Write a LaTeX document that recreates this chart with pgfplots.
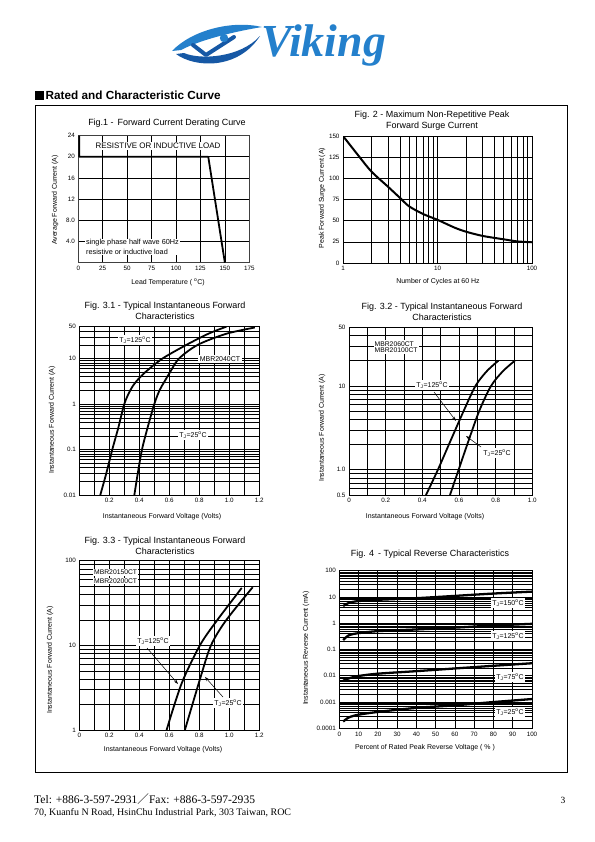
\documentclass[border=0pt]{standalone}
\usepackage{fontspec}
\setmainfont{Liberation Sans}
\newfontfamily\seriffont{Liberation Serif}
\newfontfamily\cjk{Noto Sans CJK SC}
\usepackage{pgfplots}
\pgfplotsset{compat=1.18}
\usetikzlibrary{arrows.meta}
\definecolor{logoblue}{RGB}{36,128,204}
\definecolor{logodark}{RGB}{22,88,165}
\newcommand\tl{\fontsize{6.3}{7}\selectfont}
\newcommand\al{\fontsize{7}{8}\selectfont}
\newcommand\ttl{\fontsize{9}{10}\selectfont}
\newcommand\an{\fontsize{7}{8}\selectfont}
\newcommand\TJ[1]{T\textsubscript{J}=#1\textsuperscript{o}C}

\pgfplotsset{
  ds/.style={scale only axis, anchor=north west,
    axis line style={black,line width=0.6pt},
    major tick length=0pt, minor tick length=0pt,
    tick label style={font=\tl}, /pgf/number format/assume math mode=true,
    major grid style={black,line width=0.55pt},
    minor grid style={black,line width=0.4pt}},
  curve/.style={black, line width=1.8pt, line join=round, mark=none}
}

\begin{document}
\begin{tikzpicture}
\fill[white] (0,0) rectangle (595bp,-842bp);
\path[use as bounding box] (0,0) rectangle (595bp,-842bp);

% ---------- Fig 1 ----------
\begin{axis}[ds, at={(78.3bp,-135.5bp)}, width=171bp, height=127.2bp,
  xmin=0, xmax=175, ymin=0, ymax=24,
  xtick={0,25,50,75,100,125,150,175},
  ytick={4,8,12,16,20,24}, yticklabels={4.0,8.0,12,16,20,24},
  grid=major, axis line style={black!75,line width=0.5pt}]
\addplot[curve, sharp plot] coordinates {(1,24) (1,20) (133,20) (150,0)};
\end{axis}

% ---------- Fig 2 ----------
\begin{axis}[ds, at={(343bp,-136bp)}, width=189bp, height=127bp,
  xmode=log, xmin=1, xmax=100, ymin=0, ymax=150,
  xtick={1,10,100}, xticklabels={1,10,100},
  minor xtick={2,3,4,5,6,7,8,9,20,30,40,50,60,70,80,90},
  ytick={0,25,50,75,100,125,150},
  xmajorgrids, xminorgrids, ymajorgrids,
  extra x ticks={6,8,10,30,50,70}, extra x tick labels={},
  extra x tick style={grid=major, major grid style={black,line width=1.1pt}}]
\addplot[curve, line width=2pt, smooth] coordinates {
 (1,150) (1.5,125) (2,108) (3,90) (4,77) (5,67) (7,58) (10,51)
 (15,42) (20,37) (30,32) (50,28) (70,25.5) (100,24.5)};
\end{axis}

% ---------- Fig 3.1 ----------
\begin{axis}[ds, at={(79.3bp,-326.7bp)}, width=180bp, height=168.3bp,
  xmin=0, xmax=1.2, ymode=log, ymin=0.01, ymax=50,
  xtick={0.2,0.4,0.6,0.8,1.0,1.2}, xticklabels={0.2,0.4,0.6,0.8,1.0,1.2},
  minor xtick={0.1,0.3,0.5,0.7,0.9,1.1},
  ytick={0.01,0.1,1,10,50}, yticklabels={0.01,0.1,1,10,50},
  minor ytick={0.02,0.03,0.04,0.05,0.06,0.07,0.08,0.09,0.2,0.3,0.4,0.5,0.6,0.7,0.8,0.9,2,3,4,5,6,7,8,9,20,30,40},
  grid=both]
\addplot[curve, smooth] coordinates {
 (0.140,0.01) (0.180,0.03) (0.220,0.1) (0.260,0.3) (0.300,1) (0.340,2)
 (0.375,3) (0.440,5) (0.555,10) (0.715,20) (0.860,35) (0.980,50)};
\addplot[curve, smooth] coordinates {
 (0.367,0.01) (0.390,0.03) (0.418,0.1) (0.455,0.3) (0.500,1) (0.535,2)
 (0.565,3) (0.605,5) (0.665,10) (0.790,20) (0.980,35) (1.170,48)};
\end{axis}

% ---------- Fig 3.2 ----------
\begin{axis}[ds, at={(349bp,-327.3bp)}, width=183.3bp, height=167.7bp,
  xmin=0, xmax=1.0, ymode=log, ymin=0.5, ymax=50,
  xtick={0,0.2,0.4,0.6,0.8,1.0}, xticklabels={0,0.2,0.4,0.6,0.8,1.0},
  minor xtick={0.1,0.3,0.5,0.7,0.9},
  ytick={0.5,1,10,50}, yticklabels={0.5,1.0,10,50},
  minor ytick={0.6,0.7,0.8,0.9,2,3,4,5,6,7,8,9,20,30,40},
  grid=both]
\addplot[curve, smooth] coordinates {
 (0.420,0.5) (0.485,1) (0.545,2) (0.625,5) (0.690,10) (0.752,15) (0.815,20)};
\addplot[curve, smooth] coordinates {
 (0.551,0.5) (0.598,1) (0.645,2) (0.710,5) (0.775,10) (0.840,15) (0.905,20)};
\end{axis}

% ---------- Fig 3.3 ----------
\begin{axis}[ds, at={(79.3bp,-560.7bp)}, width=180bp, height=169.3bp,
  xmin=0, xmax=1.2, ymode=log, ymin=1, ymax=100,
  xtick={0,0.2,0.4,0.6,0.8,1.0,1.2}, xticklabels={0,0.2,0.4,0.6,0.8,1.0,1.2},
  minor xtick={0.1,0.3,0.5,0.7,0.9,1.1},
  ytick={1,10,100}, yticklabels={1,10,100},
  minor ytick={2,3,4,5,6,7,8,9,20,30,40,50,60,70,80,90},
  grid=both]
\addplot[curve, smooth] coordinates {
 (0.582,1) (0.682,3.54) (0.804,10) (0.918,19.7) (1.083,47.7)};
\addplot[curve, smooth] coordinates {
 (0.704,1) (0.809,4.24) (0.878,10) (0.978,19.7) (1.156,48.6)};
\end{axis}

% ---------- Fig 4 ----------
\begin{axis}[ds, at={(339.3bp,-570.7bp)}, width=192.7bp, height=157.6bp,
  xmin=0, xmax=100, ymode=log, ymin=0.0001, ymax=100,
  xtick={0,10,20,30,40,50,60,70,80,90,100},
  ytick={0.0001,0.001,0.01,0.1,1,10,100},
  yticklabels={0.0001,0.001,0.01,0.1,1,10,100},
  minor ytick={2e-4,3e-4,4e-4,5e-4,6e-4,7e-4,8e-4,9e-4,
    0.002,0.003,0.004,0.005,0.006,0.007,0.008,0.009,
    0.02,0.03,0.04,0.05,0.06,0.07,0.08,0.09,
    0.2,0.3,0.4,0.5,0.6,0.7,0.8,0.9,2,3,4,5,6,7,8,9,20,30,40,50,60,70,80,90},
  major grid style={black,line width=0.75pt},
  minor grid style={black,line width=0.55pt},
  grid=both]
\addplot[curve, line width=2.3pt, smooth] coordinates {
 (2,4.5) (5,6) (10,7) (20,7.8) (40,9) (60,11) (80,13.5) (100,16)};
\addplot[curve, line width=2.3pt, smooth] coordinates {
 (2,0.23) (5,0.35) (10,0.42) (20,0.5) (40,0.58) (60,0.68) (80,0.82) (100,0.95)};
\addplot[curve, line width=2.3pt, smooth] coordinates {
 (2,0.0065) (5,0.008) (10,0.0098) (20,0.012) (40,0.015) (60,0.019) (80,0.024) (100,0.03)};
\addplot[curve, line width=2.3pt, smooth] coordinates {
 (2,0.00018) (5,0.00026) (10,0.00033) (20,0.00042) (40,0.0006) (60,0.00075) (80,0.001) (100,0.0013)};
\end{axis}

% ---------- page furniture, titles, labels ----------
\begin{scope}[x=1bp,y=-1bp]
% logo
\fill[logoblue] (172,51) .. controls (192,30) and (232,20) .. (262,27)
   .. controls (232,32) and (200,40) .. (181,50) -- cycle;
\fill[logodark] (176,54) .. controls (195,68) and (238,70) .. (260,36)
   .. controls (240,58) and (200,60) .. (184,53) -- cycle;
\draw[logodark, line width=4bp, line cap=round, line join=round] (193,45) -- (206,55) -- (234,37);
\fill[logoblue] (224,38) circle (4.2bp);
\node[anchor=base west, inner sep=0, text=logoblue,
  font=\seriffont\bfseries\itshape\fontsize{46}{46}\selectfont] at (261,56) {Viking};

% header
\fill[black] (35,91) rectangle (44,100);
\node[anchor=west, inner sep=0, font=\bfseries\fontsize{11.8}{13}\selectfont] at (45.5,95.5) {Rated and Characteristic Curve};
\draw[line width=0.9pt] (35,105) rectangle (567,772);

% Fig 1 texts
\node[font=\ttl] at (167,123) {Fig.1 -\, Forward Current Derating Curve};
\node[rotate=90, font=\al] at (55,200) {Average Forward Current (A)};
\node[font=\al] at (168,282) {Lead Temperature ( \textsuperscript{o}C)};
\node[fill=white, inner sep=1.2pt, font=\fontsize{8}{9}\selectfont] at (158,146) {RESISTIVE OR INDUCTIVE LOAD};
\node[fill=white, inner sep=1pt, anchor=west, align=left, font=\fontsize{7.3}{9.5}\selectfont] at (85,247) {single phase half wave 60Hz\\resistive or inductive load};

% Fig 2 texts
\node[font=\ttl] at (432,115) {Fig. 2 - Maximum Non-Repetitive Peak};
\node[font=\ttl] at (432,126.5) {Forward Surge Current};
\node[rotate=90, font=\al] at (322,198) {Peak Forward Surge Current (A)};
\node[font=\al] at (438,282) {Number of Cycles at 60 Hz};

% Fig 3.1 texts
\node[font=\ttl] at (165,306) {Fig. 3.1 - Typical Instantaneous Forward};
\node[font=\ttl] at (165,316.5) {Characteristics};
\node[rotate=90, font=\al] at (52,420) {Instantaneous Forward Current (A)};
\node[font=\al] at (162,517) {Instantaneous Forward Voltage (Volts)};
\node[fill=white, inner sep=1.5pt, font=\an] at (135,340) {\TJ{125}};
\node[fill=white, inner sep=1.5pt, font=\an] at (220,359) {MBR2040CT};
\node[fill=white, inner sep=1.5pt, font=\an] at (193,435) {\TJ{25}};

% Fig 3.2 texts
\node[font=\ttl] at (442,307) {Fig. 3.2 - Typical Instantaneous Forward};
\node[font=\ttl] at (442,317.5) {Characteristics};
\node[rotate=90, font=\al] at (322,428) {Instantaneous Forward Current (A)};
\node[font=\al] at (425,517) {Instantaneous Forward Voltage (Volts)};
\node[fill=white, inner sep=1pt, anchor=west, align=left, font=\fontsize{6.8}{6.6}\selectfont] at (373.5,347) {MBR2060CT\\MBR20100CT};
\node[fill=white, inner sep=1.5pt, font=\an] at (432,385) {\TJ{125}};
\draw[-{Stealth[length=4.5bp,width=3bp]}, line width=0.5pt] (434,392) -- (456,421);
\node[fill=white, inner sep=1.5pt, font=\an] at (497,453) {\TJ{25}};
\draw[-{Stealth[length=4.5bp,width=3bp]}, line width=0.5pt] (481,447) -- (466,436);

% Fig 3.3 texts
\node[font=\ttl] at (165,541) {Fig. 3.3 - Typical Instantaneous Forward};
\node[font=\ttl] at (165,551.5) {Characteristics};
\node[rotate=90, font=\al] at (50,660) {Instantaneous Forward Current (A)};
\node[font=\al] at (163,750) {Instantaneous Forward Voltage (Volts)};
\node[fill=white, inner sep=1pt, anchor=west, font=\fontsize{6.8}{8}\selectfont] at (93,572.5) {MBR20150CT};
\node[fill=white, inner sep=1pt, anchor=west, font=\fontsize{6.8}{8}\selectfont] at (93,581) {MBR20200CT};
\node[fill=white, inner sep=1.5pt, font=\an] at (153,641) {\TJ{125}};
\draw[-{Stealth[length=4.5bp,width=3bp]}, line width=0.5pt] (147,648) -- (178,684);
\node[fill=white, inner sep=1.5pt, font=\an] at (228,703) {\TJ{25}};
\draw[-{Stealth[length=4.5bp,width=3bp]}, line width=0.5pt] (223,697) -- (205,677);

% Fig 4 texts
\node[font=\ttl] at (430,554) {Fig. 4 \,- Typical Reverse Characteristics};
\node[rotate=90, font=\al] at (306,648) {Instantaneous Reverse Current (mA)};
\node[font=\al] at (425,748) {Percent of Rated Peak Reverse Voltage ( \% )};
\node[fill=white, inner sep=1.5pt, font=\an] at (508,603) {\TJ{150}};
\node[fill=white, inner sep=1.5pt, font=\an] at (508,636) {\TJ{125}};
\node[fill=white, inner sep=1.5pt, font=\an] at (510,677) {\TJ{75}};
\node[fill=white, inner sep=1.5pt, font=\an] at (510,712) {\TJ{25}};

% footer
\node[anchor=base west, inner sep=0, font=\seriffont\fontsize{11.6}{12}\selectfont] at (34,803)
  {Tel: +886-3-597-2931{\cjk\fontsize{11.6}{12}\selectfont ／}Fax: +886-3-597-2935};
\node[anchor=base west, inner sep=0, font=\seriffont\fontsize{10}{11}\selectfont] at (34,815.5)
  {70, Kuanfu N Road, HsinChu Industrial Park, 303 Taiwan, ROC};
\node[anchor=base, inner sep=0, font=\seriffont\fontsize{9.5}{10}\selectfont] at (563,803) {3};
\end{scope}
\end{tikzpicture}
\end{document}
